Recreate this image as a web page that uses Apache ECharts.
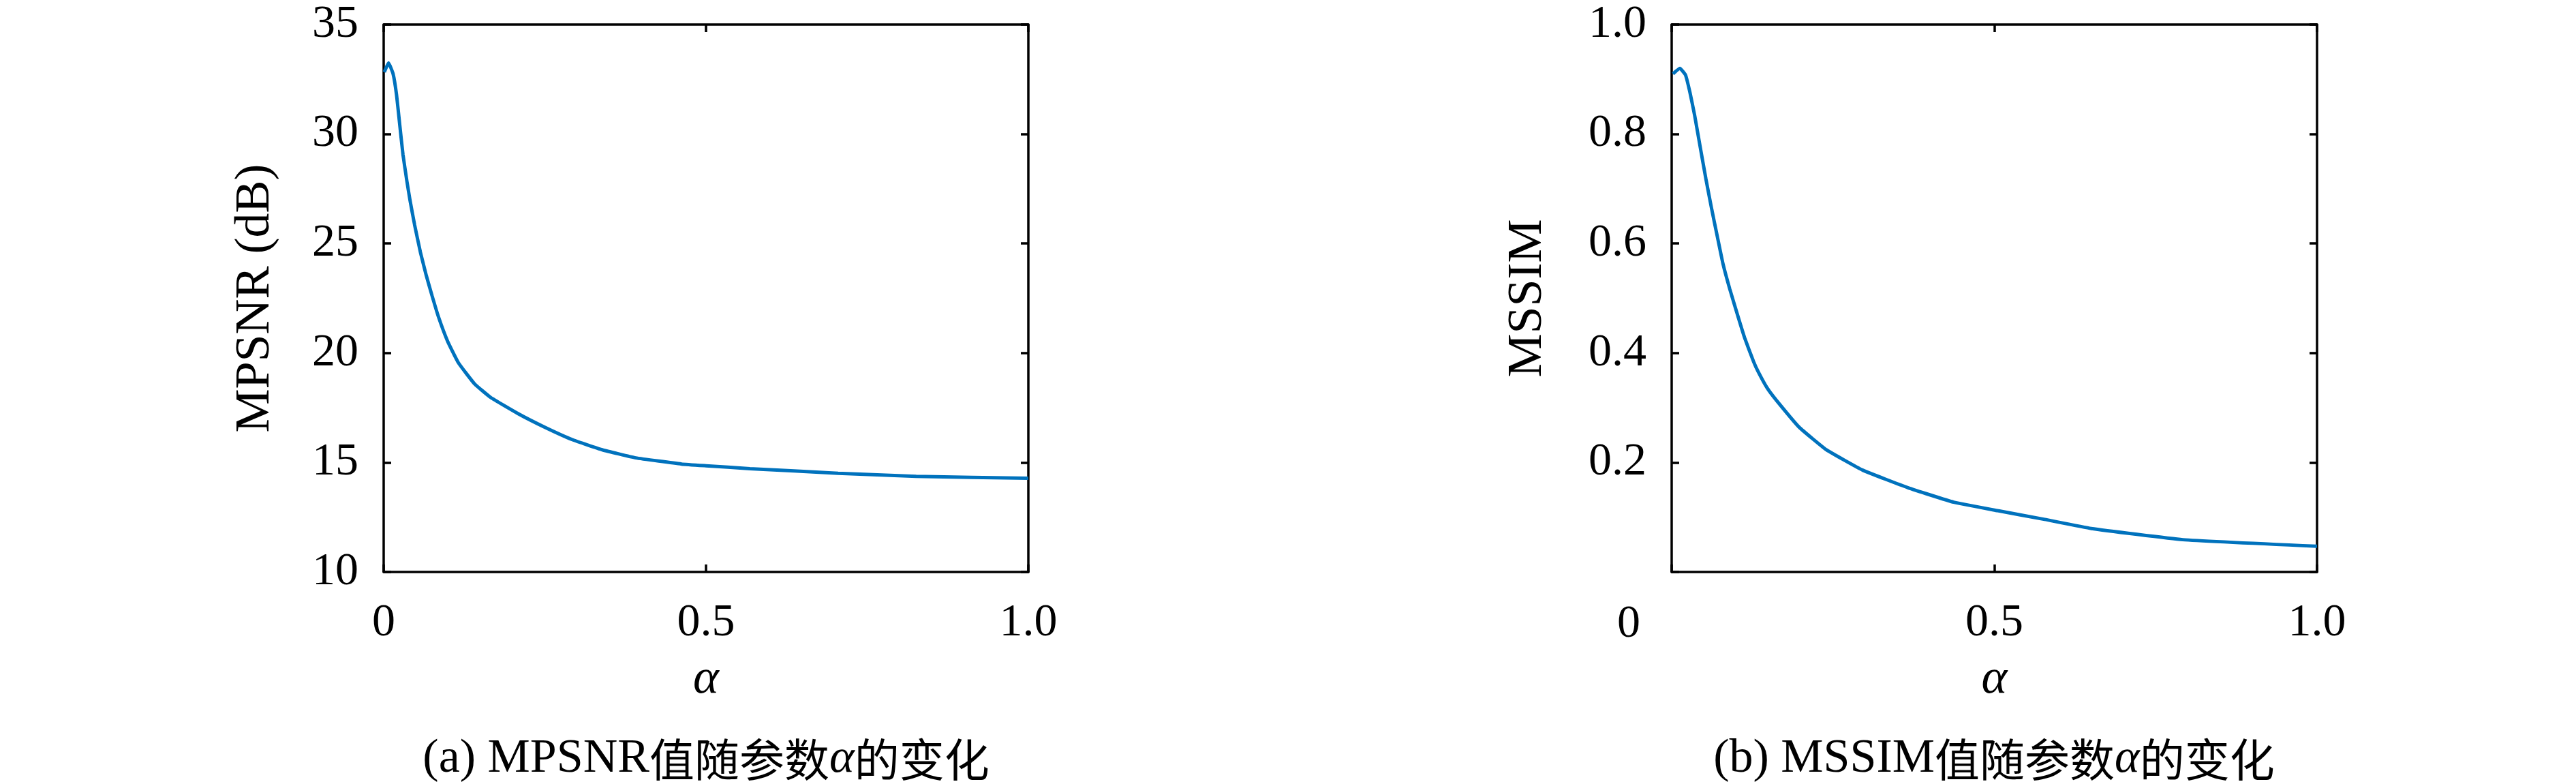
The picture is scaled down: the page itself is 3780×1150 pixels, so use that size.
<!DOCTYPE html>
<html>
<head>
<meta charset="utf-8">
<script src="https://cdn.jsdelivr.net/npm/echarts@6/dist/echarts.min.js"></script>
<style>
html,body{margin:0;padding:0;background:#fff;}
#main{width:3780px;height:1150px;}
</style>
</head>
<body>
<div id="main"></div>
<script>
// ---- data ----
const alphaA = [0.001, 0.0075, 0.0145, 0.02, 0.025, 0.03, 0.036, 0.041, 0.048, 0.057, 0.066, 0.075, 0.085, 0.099, 0.116, 0.141, 0.166, 0.208, 0.25, 0.293, 0.339, 0.391, 0.462, 0.5, 0.568, 0.705, 0.826, 1.0];
const mpsnr  = [32.83, 33.25, 32.76, 31.78, 30.40, 29.05, 27.85, 26.95, 25.85, 24.60, 23.55, 22.62, 21.65, 20.55, 19.55, 18.59, 17.97, 17.24, 16.61, 16.04, 15.58, 15.21, 14.93, 14.85, 14.72, 14.51, 14.37, 14.28];

const alphaB = [0.002, 0.0127, 0.0214, 0.0285, 0.0356, 0.0444, 0.0532, 0.062, 0.0707, 0.0795, 0.09, 0.104, 0.113, 0.127, 0.134, 0.148, 0.162, 0.1975, 0.24, 0.296, 0.366, 0.437, 0.505, 0.578, 0.65, 0.792, 1.0];
const mssim  = [0.910, 0.920, 0.908, 0.875, 0.834, 0.775, 0.717, 0.663, 0.613, 0.563, 0.517, 0.462, 0.428, 0.384, 0.366, 0.336, 0.314, 0.2645, 0.223, 0.186, 0.154, 0.1275, 0.112, 0.096, 0.0795, 0.059, 0.047];

const xTickLabels  = ['0', '0.5', '1.0'];          // at 0, 0.5, 1
const yTickLabelsA = ['10', '15', '20', '25', '30', '35'];
const yTickLabelsB = ['', '0.2', '0.4', '0.6', '0.8', '1.0'];
const captionA = ['(a) MPSNR', '值随参数', 'α', '的变化'];
const captionB = ['(b) MSSIM', '值随参数', 'α', '的变化'];

// ---- styling ----
const SERIF = '"Liberation Serif", "DejaVu Serif", serif';
const CJK = '"Noto Sans CJK SC", sans-serif';
const FS = 68;
const NAMEFS = 72;
const axisLineStyle = {color: '#000', width: 3.5};

function bottomX(grid, labelFmt) {
  return {
    gridIndex: grid, type: 'value', min: 0, max: 1, interval: 0.5, position: 'bottom',
    axisLine: {show: true, onZero: false, lineStyle: axisLineStyle},
    axisTick: {show: true, inside: true, length: 11, lineStyle: axisLineStyle},
    axisLabel: {show: true, margin: 41, fontFamily: SERIF, fontSize: FS, color: '#000', lineHeight: 68,
      formatter: labelFmt},
    splitLine: {show: false},
    name: 'α', nameLocation: 'middle', nameGap: 122,
    nameTextStyle: {fontFamily: SERIF, fontStyle: 'italic', fontSize: NAMEFS, color: '#000'}
  };
}
function topX(grid) {
  return {
    gridIndex: grid, type: 'value', min: 0, max: 1, interval: 0.5, position: 'top',
    axisLine: {show: true, onZero: false, lineStyle: axisLineStyle},
    axisTick: {show: true, inside: true, length: 11, lineStyle: axisLineStyle},
    axisLabel: {show: false}, splitLine: {show: false}
  };
}
function leftY(grid, min, max, interval, labels, name, nameGap) {
  return {
    gridIndex: grid, type: 'value', min: min, max: max, interval: interval, position: 'left',
    axisLine: {show: true, onZero: false, lineStyle: axisLineStyle},
    axisTick: {show: true, inside: true, length: 11, lineStyle: axisLineStyle},
    axisLabel: {show: true, margin: 37, fontFamily: SERIF, fontSize: FS, color: '#000',
      formatter: function (v) { return labels[Math.round((v - min) / interval)]; }},
    splitLine: {show: false},
    name: name, nameLocation: 'middle', nameGap: nameGap, nameRotate: 90,
    nameTextStyle: {fontFamily: SERIF, fontSize: NAMEFS, color: '#000'}
  };
}
function rightY(grid, min, max, interval) {
  return {
    gridIndex: grid, type: 'value', min: min, max: max, interval: interval, position: 'right',
    axisLine: {show: true, onZero: false, lineStyle: axisLineStyle},
    axisTick: {show: true, inside: true, length: 11, lineStyle: axisLineStyle},
    axisLabel: {show: false}, splitLine: {show: false}
  };
}

const fmtA = function (v) { return xTickLabels[Math.round(v / 0.5)]; };
const fmtB = function (v) { return v === 0 ? '' : xTickLabels[Math.round(v / 0.5)]; };

function caption(x, parts) {
  return {
    type: 'text', x: x, y: 1114,
    style: {
      text: '{a|' + parts[0] + '}{c|' + parts[1] + '}{g|' + parts[2] + '}{c|' + parts[3] + '}',
      align: 'center', verticalAlign: 'middle',
      rich: {
        a: {fontFamily: SERIF, fontSize: 70, fill: '#000'},
        c: {fontFamily: CJK, fontSize: 66, fill: '#000'},
        g: {fontFamily: SERIF, fontStyle: 'italic', fontSize: 70, fill: '#000'}
      }
    }
  };
}

const chart = echarts.init(document.getElementById('main'), null, {renderer: 'canvas'});
chart.setOption({
  backgroundColor: '#fff',
  animation: false,
  grid: [
    {left: 563, width: 946, top: 36, height: 803},
    {left: 2453, width: 947, top: 36, height: 803}
  ],
  xAxis: [bottomX(0, fmtA), topX(0), bottomX(1, fmtB), topX(1)],
  yAxis: [
    leftY(0, 10, 35, 5, yTickLabelsA, 'MPSNR (dB)', 152), rightY(0, 10, 35, 5),
    leftY(1, 0, 1, 0.2, yTickLabelsB, 'MSSIM', 175), rightY(1, 0, 1, 0.2)
  ],
  series: [
    {type: 'line', xAxisIndex: 0, yAxisIndex: 0, showSymbol: false, smooth: 0.12,
      lineStyle: {color: '#0072BD', width: 5}, data: alphaA.map((a, i) => [a, mpsnr[i]])},
    {type: 'line', xAxisIndex: 2, yAxisIndex: 2, showSymbol: false, smooth: 0.12,
      lineStyle: {color: '#0072BD', width: 5}, data: alphaB.map((a, i) => [a, mssim[i]])}
  ],
  graphic: [
    caption(1036, captionA),
    caption(2926, captionB),
    {type: 'text', x: 2407, y: 916, style: {text: '0', fontFamily: SERIF, fontSize: FS, fill: '#000',
      align: 'right', verticalAlign: 'middle'}}
  ]
});
</script>
</body>
</html>
